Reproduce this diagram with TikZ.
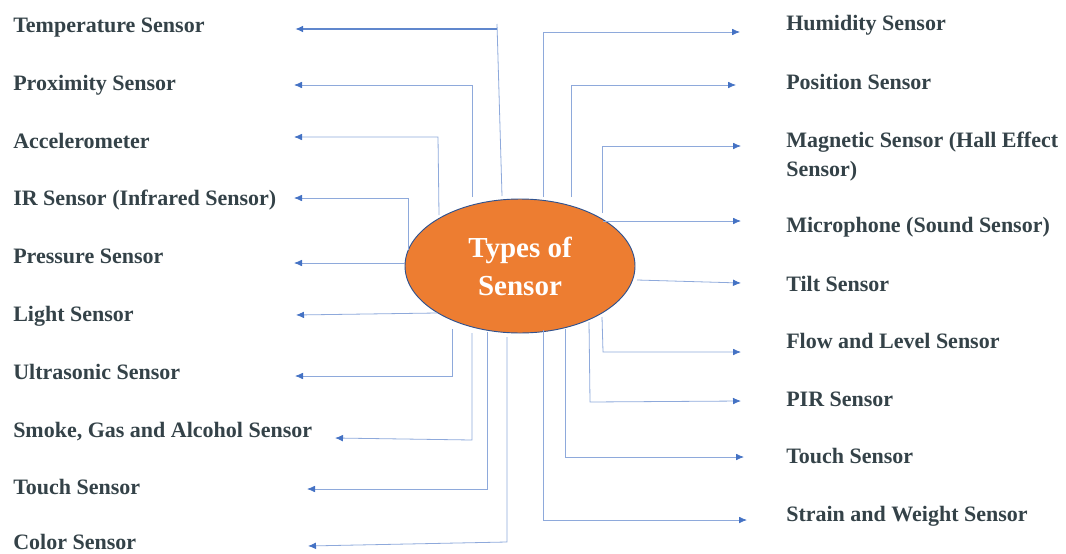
\documentclass[tikz,border=0pt]{standalone}
\usepackage{fontspec}
\setmainfont{Liberation Serif}
\usetikzlibrary{shapes.geometric,arrows.meta}
\definecolor{lineblue}{RGB}{142,169,219}
\definecolor{tipblue}{RGB}{68,114,196}
\definecolor{txtgray}{RGB}{52,66,72}
\definecolor{orangefill}{RGB}{237,125,49}
\definecolor{rimblue}{RGB}{47,82,143}
\tikzset{
  lbl/.style={anchor=base west, inner sep=0pt, text=txtgray, font=\bfseries\fontsize{16.5}{21.75}\selectfont, align=left},
  conn/.style={draw=lineblue, line width=0.6pt, -{Latex[length=6pt,width=5pt,color=tipblue]}},
}
\begin{document}
\begin{tikzpicture}[x=0.75pt,y=-0.75pt]
\useasboundingbox (0,0) rectangle (1066,553);
% centre
\node[ellipse, fill=orangefill, draw=rimblue, line width=0.7pt, minimum width=172.5pt, minimum height=100.5pt, inner sep=0pt,
  text=white, font=\bfseries\fontsize{21.75}{28.5}\selectfont, align=center] (c) at (520,266) {Types of\\Sensor};
% left labels
\node[lbl] (l1) at (13,32) {Temperature Sensor};
\node[lbl] (l2) at (13,90) {Proximity Sensor};
\node[lbl] (l3) at (13,148) {Accelerometer};
\node[lbl] (l4) at (13,205) {IR Sensor (Infrared Sensor)};
\node[lbl] (l5) at (13,263) {Pressure Sensor};
\node[lbl] (l6) at (13,321) {Light Sensor};
\node[lbl] (l7) at (13,379) {Ultrasonic Sensor};
\node[lbl] (l8) at (13,437) {Smoke, Gas and Alcohol Sensor};
\node[lbl] (l9) at (13,494) {Touch Sensor};
\node[lbl] (l10) at (13,549) {Color Sensor};
% right labels
\node[lbl] (r1) at (786,31) {Humidity Sensor};
\node[lbl] (r2) at (786,89) {Position Sensor};
\node[lbl] (r3) at (786,176) {Magnetic Sensor (Hall Effect\\Sensor)};
\node[lbl] (r4) at (786,232) {Microphone (Sound Sensor)};
\node[lbl] (r5) at (786,291) {Tilt Sensor};
\node[lbl] (r6) at (786,348) {Flow and Level Sensor};
\node[lbl] (r7) at (786,406) {PIR Sensor};
\node[lbl] (r8) at (786,463) {Touch Sensor};
\node[lbl] (r9) at (786,521) {Strain and Weight Sensor};
% arrow tips (free ends)
\coordinate (tl1) at (295,29);
\coordinate (tl2) at (294,85);
\coordinate (tl3) at (294,137);
\coordinate (tl4) at (294,198);
\coordinate (tl5) at (294,263);
\coordinate (tl6) at (296,315);
\coordinate (tl7) at (295,376);
\coordinate (tl8) at (335,438);
\coordinate (tl9) at (307,489);
\coordinate (tl10) at (308,546);
\coordinate (tr1) at (740,32);
\coordinate (tr2) at (736,85);
\coordinate (tr3) at (741,146);
\coordinate (tr4) at (741,221);
\coordinate (tr5) at (741,283);
\coordinate (tr6) at (741,352);
\coordinate (tr7) at (741,401);
\coordinate (tr8) at (744,457);
\coordinate (tr9) at (747,520);
% left connectors
\draw[draw=lineblue, line width=0.6pt] (502,196) -- (497,24);
\draw[draw=tipblue!85, line width=1.3pt, -{Latex[length=6pt,width=5pt,color=tipblue]}] (497,29) -- (tl1);
\draw[conn] (472,197) -- (472,85) -- (tl2);
\draw[conn] (439,215) -- (438,137) -- (tl3);
\draw[conn] (408,250) -- (408,198) -- (tl4);
\draw[conn] (405,263) -- (tl5);
\draw[conn] (437,313) -- (tl6);
\draw[conn] (452,329) -- (452,376) -- (tl7);
\draw[conn] (472,333) -- (472,440) -- (tl8);
\draw[conn] (487,332) -- (487,489) -- (tl9);
\draw[conn] (507,337) -- (507,542) -- (tl10);
% right connectors
\draw[conn] (543,197) -- (543,32) -- (tr1);
\draw[conn] (571,197) -- (571,85) -- (tr2);
\draw[conn] (602,213) -- (602,146) -- (tr3);
\draw[conn] (603,221) -- (tr4);
\draw[conn] (637,280) -- (tr5);
\draw[conn] (602,317) -- (603,352) -- (tr6);
\draw[conn] (589,322) -- (590,402) -- (tr7);
\draw[conn] (565,329) -- (565,457) -- (tr8);
\draw[conn] (543,330) -- (543,520) -- (tr9);
\end{tikzpicture}
\end{document}
